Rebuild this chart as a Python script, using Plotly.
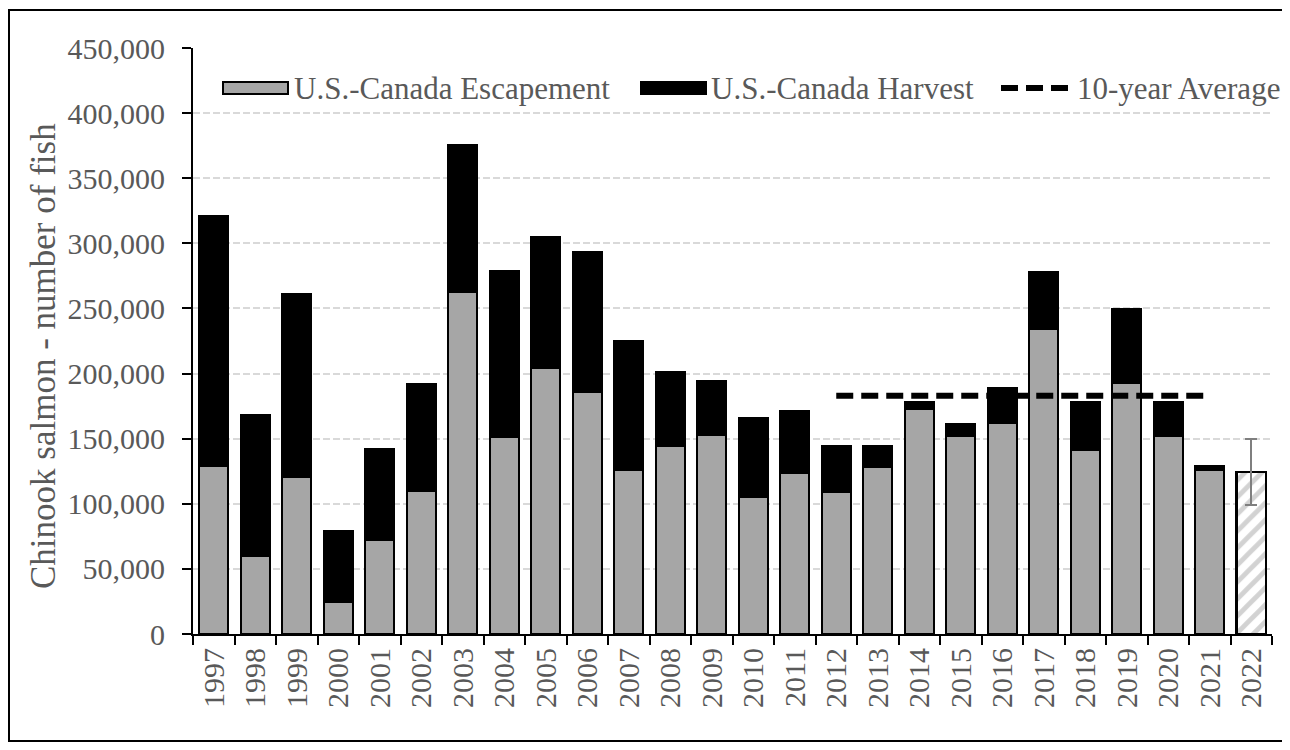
import plotly.graph_objects as go

# ---------------- data ----------------
years = ["1997", "1998", "1999", "2000", "2001", "2002", "2003", "2004", "2005",
         "2006", "2007", "2008", "2009", "2010", "2011", "2012", "2013", "2014",
         "2015", "2016", "2017", "2018", "2019", "2020", "2021", "2022"]
hist_years = years[:-1]
escapement = [129200, 60000, 120500, 24400, 72300, 110000, 262800, 151300, 204400,
              185900, 126200, 144600, 152600, 105100, 123600, 109200, 128500, 172800,
              151800, 162100, 234100, 141000, 192800, 151800, 126200]
harvest = [192100, 108200, 140300, 54600, 70000, 82300, 112600, 127700, 100700,
           107700, 98900, 56700, 41800, 60500, 47700, 35200, 15900, 5200,
           9700, 26600, 44100, 37000, 56400, 26400, 3000]
proj_year = ["2022"]
proj_value = [124400]
proj_err = [25500]
avg_years = ["2012", "2021"]
avg_values = [183000, 183000]

legend_labels = ["U.S.-Canada Escapement", "U.S.-Canada Harvest", "10-year Average"]
y_title = "Chinook salmon - number of fish"

# ---------------- style ----------------
OFF = 8                      # page body margin
W, H = 1290 - OFF, 750 - 2 * OFF
ML, MT = 193 - OFF, 48 - OFF
PW, PH = 1079, 586
MR, MB = W - ML - PW, H - MT - PH
FONT = "Liberation Serif, Times New Roman, serif"
TXT = "#595959"
GRAY = "#a6a6a6"


def px(x):  # page pixel -> paper
    return (x - OFF - ML) / PW


def py(y):
    return (MT + PH - (y - OFF)) / PH


fig = go.Figure()
fig.add_trace(go.Bar(x=hist_years, y=escapement, name=legend_labels[0],
                     marker=dict(color=GRAY, line=dict(color="black", width=2)),
                     width=0.7, showlegend=False))
fig.add_trace(go.Bar(x=hist_years, y=harvest, name=legend_labels[1],
                     marker=dict(color="black", line=dict(color="black", width=2)),
                     width=0.7, showlegend=False))
fig.add_trace(go.Bar(x=proj_year, y=proj_value, name="2022 projection",
                     marker=dict(color="white", line=dict(color="black", width=2.5),
                                 pattern=dict(shape="/", fgcolor=GRAY, bgcolor="white",
                                              size=12, solidity=0.4)),
                     error_y=dict(type="data", array=proj_err, color="#7f7f7f",
                                  thickness=2, width=6),
                     width=0.7, showlegend=False))
fig.add_trace(go.Scatter(x=avg_years, y=avg_values, mode="lines", name=legend_labels[2],
                         line=dict(color="black", width=6, dash="17px,8px"),
                         showlegend=False))

# custom legend (wide swatches like the original)
shapes = []
ann = []
ly = 88
shapes.append(dict(type="rect", xref="paper", yref="paper", x0=px(223), x1=px(288),
                   y0=py(ly + 6), y1=py(ly - 6), fillcolor=GRAY,
                   line=dict(color="black", width=2)))
ann.append(dict(xref="paper", yref="paper", x=px(292), y=py(ly), xanchor="left",
                yanchor="middle", text=legend_labels[0], showarrow=False))
shapes.append(dict(type="rect", xref="paper", yref="paper", x0=px(641), x1=px(706),
                   y0=py(ly + 6), y1=py(ly - 6), fillcolor="black",
                   line=dict(color="black", width=2)))
ann.append(dict(xref="paper", yref="paper", x=px(709), y=py(ly), xanchor="left",
                yanchor="middle", text=legend_labels[1], showarrow=False))
shapes.append(dict(type="line", xref="paper", yref="paper", x0=px(1001), x1=px(1073),
                   y0=py(ly), y1=py(ly), line=dict(color="black", width=6, dash="17px,8px")))
ann.append(dict(xref="paper", yref="paper", x=px(1075), y=py(ly), xanchor="left",
                yanchor="middle", text=legend_labels[2], showarrow=False))
for a in ann:
    a["font"] = dict(family=FONT, size=31, color=TXT)

# y-axis title placed like the original
ann.append(dict(xref="paper", yref="paper", x=px(43), y=py(356), xanchor="center",
                yanchor="middle", text=y_title, textangle=-90, showarrow=False,
                font=dict(family=FONT, size=35, color=TXT)))

# outer border
shapes.append(dict(type="rect", xref="paper", yref="paper", x0=px(9), x1=px(1288),
                   y0=py(741), y1=py(10), line=dict(color="black", width=2),
                   fillcolor="rgba(0,0,0,0)", layer="below"))

fig.update_layout(
    width=W, height=H, barmode="stack", bargap=0.3,
    margin=dict(l=ML, r=MR, t=MT, b=MB),
    paper_bgcolor="white", plot_bgcolor="white",
    font=dict(family=FONT, size=30, color=TXT),
    shapes=shapes, annotations=ann,
    showlegend=False,
)
fig.update_xaxes(type="category", categoryorder="array", categoryarray=years,
                 range=[-0.5, 25.5], showline=True, linecolor="black", linewidth=2,
                 ticks="outside", tickson="boundaries", ticklen=9, tickwidth=2,
                 tickcolor="black", tickangle=-90, showgrid=False,
                 tickfont=dict(family=FONT, size=30, color=TXT))
fig.update_yaxes(range=[0, 450000], dtick=50000, tickformat=",", showline=True,
                 linecolor="black", linewidth=2, ticks="outside", ticklen=9,
                 tickwidth=2, tickcolor="black", showgrid=True, gridcolor="#d9d9d9",
                 gridwidth=2, griddash="7px,3px", zeroline=False,
                 ticklabelstandoff=11,
                 tickfont=dict(family=FONT, size=30, color=TXT))

fig.write_html("out.html")
